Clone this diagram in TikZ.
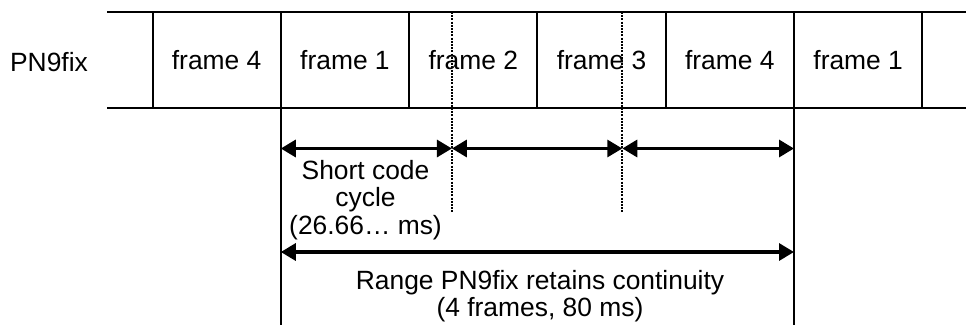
\documentclass[tikz,border=0pt]{standalone}
\usepackage{fontspec}
\setmainfont{Liberation Sans}
\usetikzlibrary{arrows.meta}
\begin{document}
\begin{tikzpicture}[x=1pt,y=-1pt,
  every node/.style={font=\fontsize{26.4}{27.5}\selectfont, inner sep=0pt, outer sep=0pt},
  framebox/.style={draw, line width=2pt, minimum width=128.3pt, minimum height=96pt, anchor=west},
  stripline/.style={line width=2pt},
  bound/.style={line width=2pt},
  dotline/.style={line width=2.2pt, dash pattern=on 2pt off 1.2pt},
  span/.style={line width=3.2pt, {Triangle[length=15pt,width=17pt]}-{Triangle[length=15pt,width=17pt]}}]
\useasboundingbox (0,0) rectangle (966,324);
% strip
\node[framebox] (f0) at (152.5,60) {frame 4};
\node[framebox] (f1) at (f0.east) {frame 1};
\node[framebox] (f2) at (f1.east) {frame 2};
\node[framebox] (f3) at (f2.east) {frame 3};
\node[framebox] (f4) at (f3.east) {frame 4};
\node[framebox] (f5) at (f4.east) {frame 1};
\node (pn) at (49,62) {PN9fix};
\coordinate (lt) at (107,12);
\coordinate (lb) at (107,108);
\coordinate (rt) at (967,12);
\coordinate (rb) at (967,108);
\draw[stripline] (lt) -- (f0.north west) (lb) -- (f0.south west);
\draw[stripline] (f5.north east) -- (rt) (f5.south east) -- (rb);
% boundaries
\coordinate (b1) at (f1.south west |- 0,325);
\coordinate (b2) at (f4.south east |- 0,325);
\draw[bound] (f1.south west) -- (b1);
\draw[bound] (f4.south east) -- (b2);
% dotted thirds
\coordinate (d1t) at (451.9,12);
\coordinate (d1b) at (451.9,213);
\coordinate (d2t) at (622.3,12);
\coordinate (d2b) at (622.3,213);
\draw[dotline] (d1t) -- (d1b);
\draw[dotline] (d2t) -- (d2b);
% arrows
\coordinate (a0) at (f1.south west |- 0,148.5);
\coordinate (a1) at (451.9,148.5);
\coordinate (a2) at (622.3,148.5);
\coordinate (a3) at (f4.south east |- 0,148.5);
\draw[span] (a0) -- (a1);
\draw[span] (a1) -- (a2);
\draw[span] (a2) -- (a3);
\coordinate (r0) at (f1.south west |- 0,252);
\coordinate (r1) at (f4.south east |- 0,252);
\draw[span] (r0) -- (r1);
% labels
\node[align=center] (sc) at (365.5,200) {Short code\\cycle\\(26.66… ms)};
\node[align=center] (rg) at (540,296) {Range PN9fix retains continuity\\(4 frames, 80 ms)};
\end{tikzpicture}
\end{document}
